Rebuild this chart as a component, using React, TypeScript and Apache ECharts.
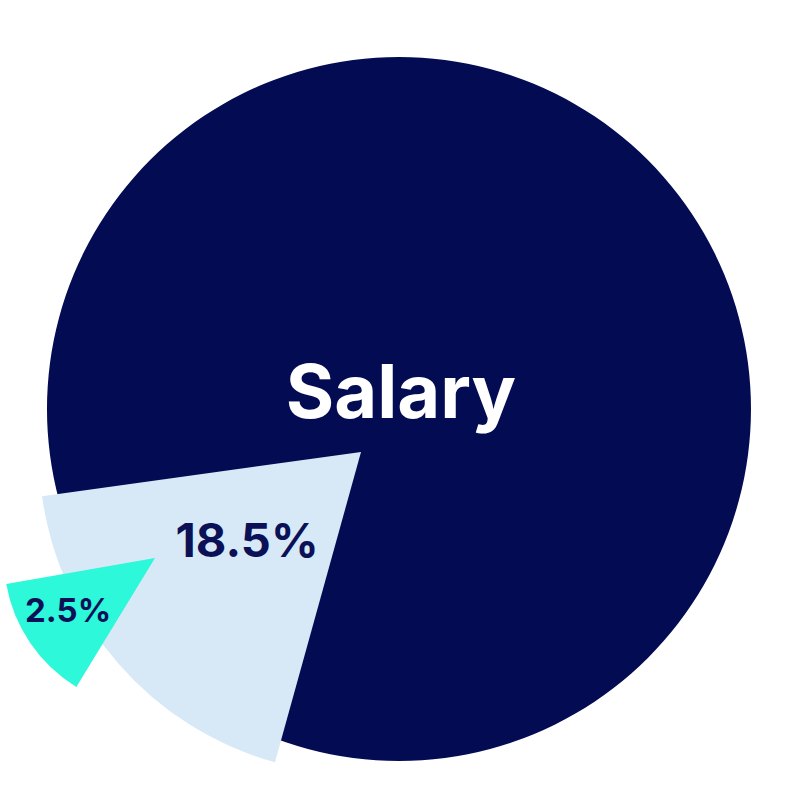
import React, { useEffect, useRef } from "react";
import * as echarts from "echarts";

const categories = ["Salary", "Share A", "Share B"];
const values = [79, 18.5, 2.5];
const colors = ["#030B52", "#D7E9F6", "#2DF8D9"];

export default function App() {
  const ref = useRef<HTMLDivElement>(null);
  useEffect(() => {
    if (!ref.current) return;
    const chart = echarts.init(ref.current, null, { renderer: "svg" });
    const hidden = {
      itemStyle: { color: "rgba(0,0,0,0)" },
      label: { show: false },
      labelLine: { show: false },
      emphasis: { disabled: true },
    };
    const option = {
      animation: false,
      backgroundColor: "#ffffff",
      series: [
        {
          type: "pie",
          silent: true,
          center: [399, 409],
          radius: [0, 352],
          startAngle: 90,
          data: [{ value: values[0], name: categories[0], itemStyle: { color: colors[0] } }],
          label: {
            show: true,
            position: "center",
            formatter: (p: any) => "{t|" + p.name + "}\n{s|}",
            padding: [0, 0, 0, 4],
            rich: {
              t: {
                color: "#ffffff",
                fontFamily: "Inter",
                fontWeight: 700,
                fontSize: 74,
                lineHeight: 80,
              },
              s: { fontSize: 10, lineHeight: 36 },
            },
          },
          labelLine: { show: false },
        },
        {
          type: "pie",
          silent: true,
          center: [361, 452],
          radius: [0, 322],
          startAngle: 254.5,
          clockwise: true,
          data: [
            {
              value: values[1],
              name: categories[1],
              itemStyle: { color: colors[1] },
              label: {
                show: true,
                position: "inside",
                formatter: (p: any) => "{t|" + p.value + "%}\n{s|}",
                padding: [0, 0, 0, 19],
                rich: {
                  t: {
                    color: "#0B1157",
                    fontFamily: "Inter",
                    fontWeight: 700,
                    fontSize: 47,
                    lineHeight: 52,
                  },
                  s: { fontSize: 10, lineHeight: 42 },
                },
              },
              labelLine: { show: false },
            },
            { value: 100 - values[1], name: "rest1", ...hidden },
          ],
        },
        {
          type: "pie",
          silent: true,
          center: [155, 558],
          radius: [0, 151],
          startAngle: 238.6,
          clockwise: true,
          data: [
            {
              value: values[2],
              name: categories[2],
              itemStyle: { color: colors[2] },
              label: {
                show: true,
                position: "inside",
                formatter: (p: any) => "{s|}\n{t|" + p.value + "%}",
                padding: [0, 44, 0, 0],
                rich: {
                  t: {
                    color: "#0B1157",
                    fontFamily: "Inter",
                    fontWeight: 700,
                    fontSize: 33,
                    lineHeight: 38,
                  },
                  s: { fontSize: 10, lineHeight: 16 },
                },
              },
              labelLine: { show: false },
            },
            { value: values[1] - values[2], name: "rest2", ...hidden },
          ],
        },
      ],
    };
    chart.setOption(option as any);
    return () => chart.dispose();
  }, []);
  return (
    <div
      ref={ref}
      style={{ position: "absolute", left: 0, top: 0, width: 800, height: 800 }}
    />
  );
}
